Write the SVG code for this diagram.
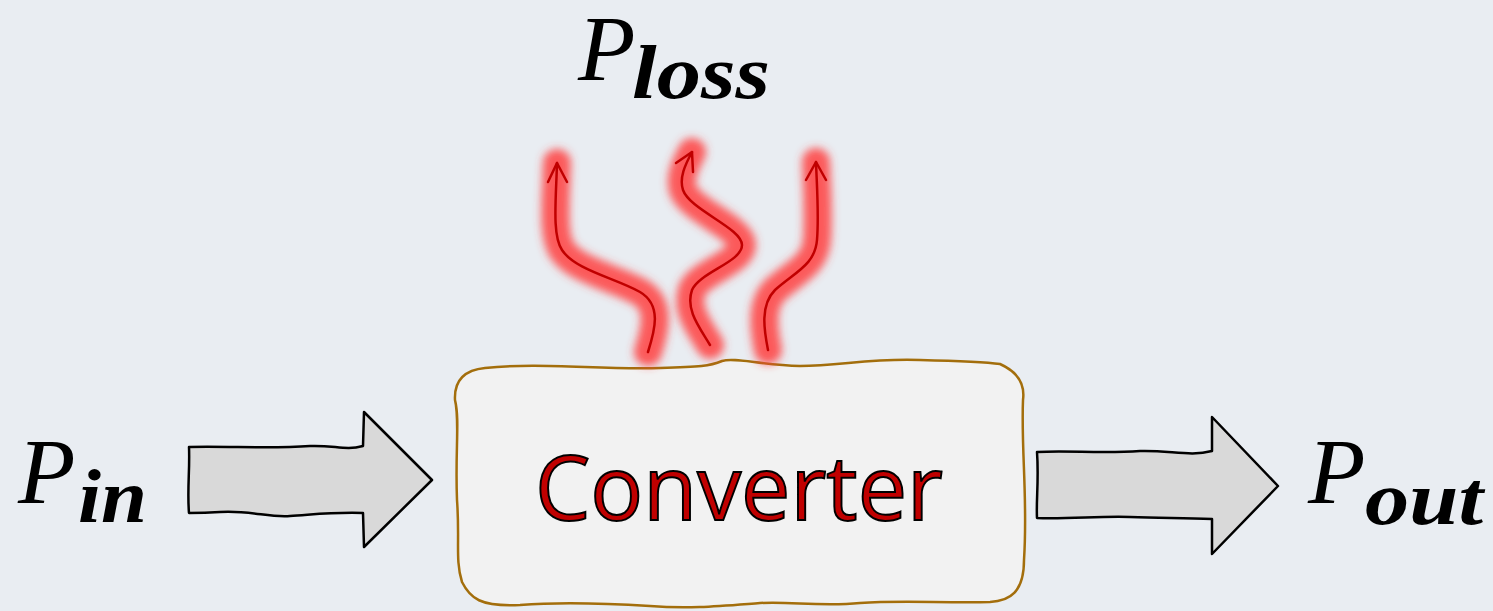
<svg xmlns="http://www.w3.org/2000/svg" width="1493" height="611" viewBox="0 0 1493 611">
<style>
.P{font-family:"Liberation Serif",serif;font-style:italic;font-size:94px;fill:#000}
.sub{font-family:"Liberation Serif",serif;font-style:italic;font-weight:bold;font-size:76px;fill:#000}
.arrow{fill:#D9D9D9;stroke:#000;stroke-width:2.5;stroke-linejoin:round}
.heat{fill:none;stroke:#C00000;stroke-width:2.5;stroke-linecap:round;stroke-linejoin:round}
.glow{fill:none;stroke:#FF3F3F;stroke-opacity:0.85;stroke-width:28;stroke-linecap:round;stroke-linejoin:round;filter:url(#blur)}
</style>
<defs>
<filter id="blur" x="-50%" y="-20%" width="200%" height="140%"><feGaussianBlur stdDeviation="4"/></filter>
</defs>
<rect width="1493" height="611" fill="#E9EDF2"/>

<g id="converter">
<path d="M485,368 C540,362 600,370 660,368 C700,367 710,366 722,361 C735,357 760,365 800,366 C840,366 870,358 920,360 C960,361 985,362 1000,364 C1018,372 1025,385 1023,400 C1021,450 1028,500 1024,560 C1024,592 1010,601 990,602 C940,603 900,600 860,603 C820,607 790,601 760,603 C720,606 690,609 650,606 C600,603 560,602 520,605 C480,607 470,598 462,582 C455,560 460,540 457,500 C455,450 460,420 455,400 C454,380 465,370 485,368 Z" fill="#F2F2F2" stroke="#A36E0C" stroke-width="2.5"/>
<text x="739" y="520" text-anchor="middle" font-family="'Open Sans','Noto Sans',sans-serif" font-size="90" fill="#C00000" stroke="#000" stroke-width="2" textLength="408" lengthAdjust="spacingAndGlyphs">Converter</text>
</g>

<g id="connectors">
<g id="heat-glow">
<path class="glow" d="M648,352 C655,330 662,305 640,292 C615,278 575,270 562,250 C552,235 556,200 557,163"/>
<path class="glow" d="M710,345 C700,328 685,310 692,290 C700,272 742,262 742,245 C742,228 690,210 683,190 C679,178 685,165 692,152"/>
<path class="glow" d="M768,350 C764,330 760,305 775,290 C795,272 815,265 817,240 C819,215 817,190 816,162"/>
</g>
<g id="heat-lines">
<path class="heat" d="M648,352 C655,330 662,305 640,292 C615,278 575,270 562,250 C552,235 556,200 557,163"/>
<path class="heat" d="M548,182 L557,163 L567,182"/>
<path class="heat" d="M710,345 C700,328 685,310 692,290 C700,272 742,262 742,245 C742,228 690,210 683,190 C679,178 685,165 692,152"/>
<path class="heat" d="M676,163 L692,152 L693,172"/>
<path class="heat" d="M768,350 C764,330 760,305 775,290 C795,272 815,265 817,240 C819,215 817,190 816,162"/>
<path class="heat" d="M806,180 L816,162 L826,180"/>
</g>
<path id="arrow-in" class="arrow" d="M189,447 C230,446 270,449 310,446 C335,445 345,451 363,446 L364,412 L432,480 L364,547 L363,513 C330,512 310,515 290,516 C270,518 250,510 220,512 C205,513 195,513 189,513 C187,490 190,470 189,447 Z"/>
<path id="arrow-out" class="arrow" d="M1037,452 C1070,450 1100,454 1140,451 C1170,450 1190,457 1212,451 L1212,417 L1278,486 L1212,554 L1212,519 C1180,518 1160,518 1130,517 C1100,516 1070,519 1037,518 C1036,500 1039,480 1037,452 Z"/>
</g>

<g id="label-loss">
<text class="P" x="578" y="80">P</text>
<text class="sub" x="632" y="98" textLength="138" lengthAdjust="spacingAndGlyphs">loss</text>
</g>
<g id="label-in">
<text class="P" x="18" y="503">P</text>
<text class="sub" x="78" y="522" textLength="69" lengthAdjust="spacingAndGlyphs">in</text>
</g>
<g id="label-out">
<text class="P" x="1308" y="503">P</text>
<text class="sub" x="1365" y="524" textLength="118" lengthAdjust="spacingAndGlyphs">out</text>
</g>
</svg>
